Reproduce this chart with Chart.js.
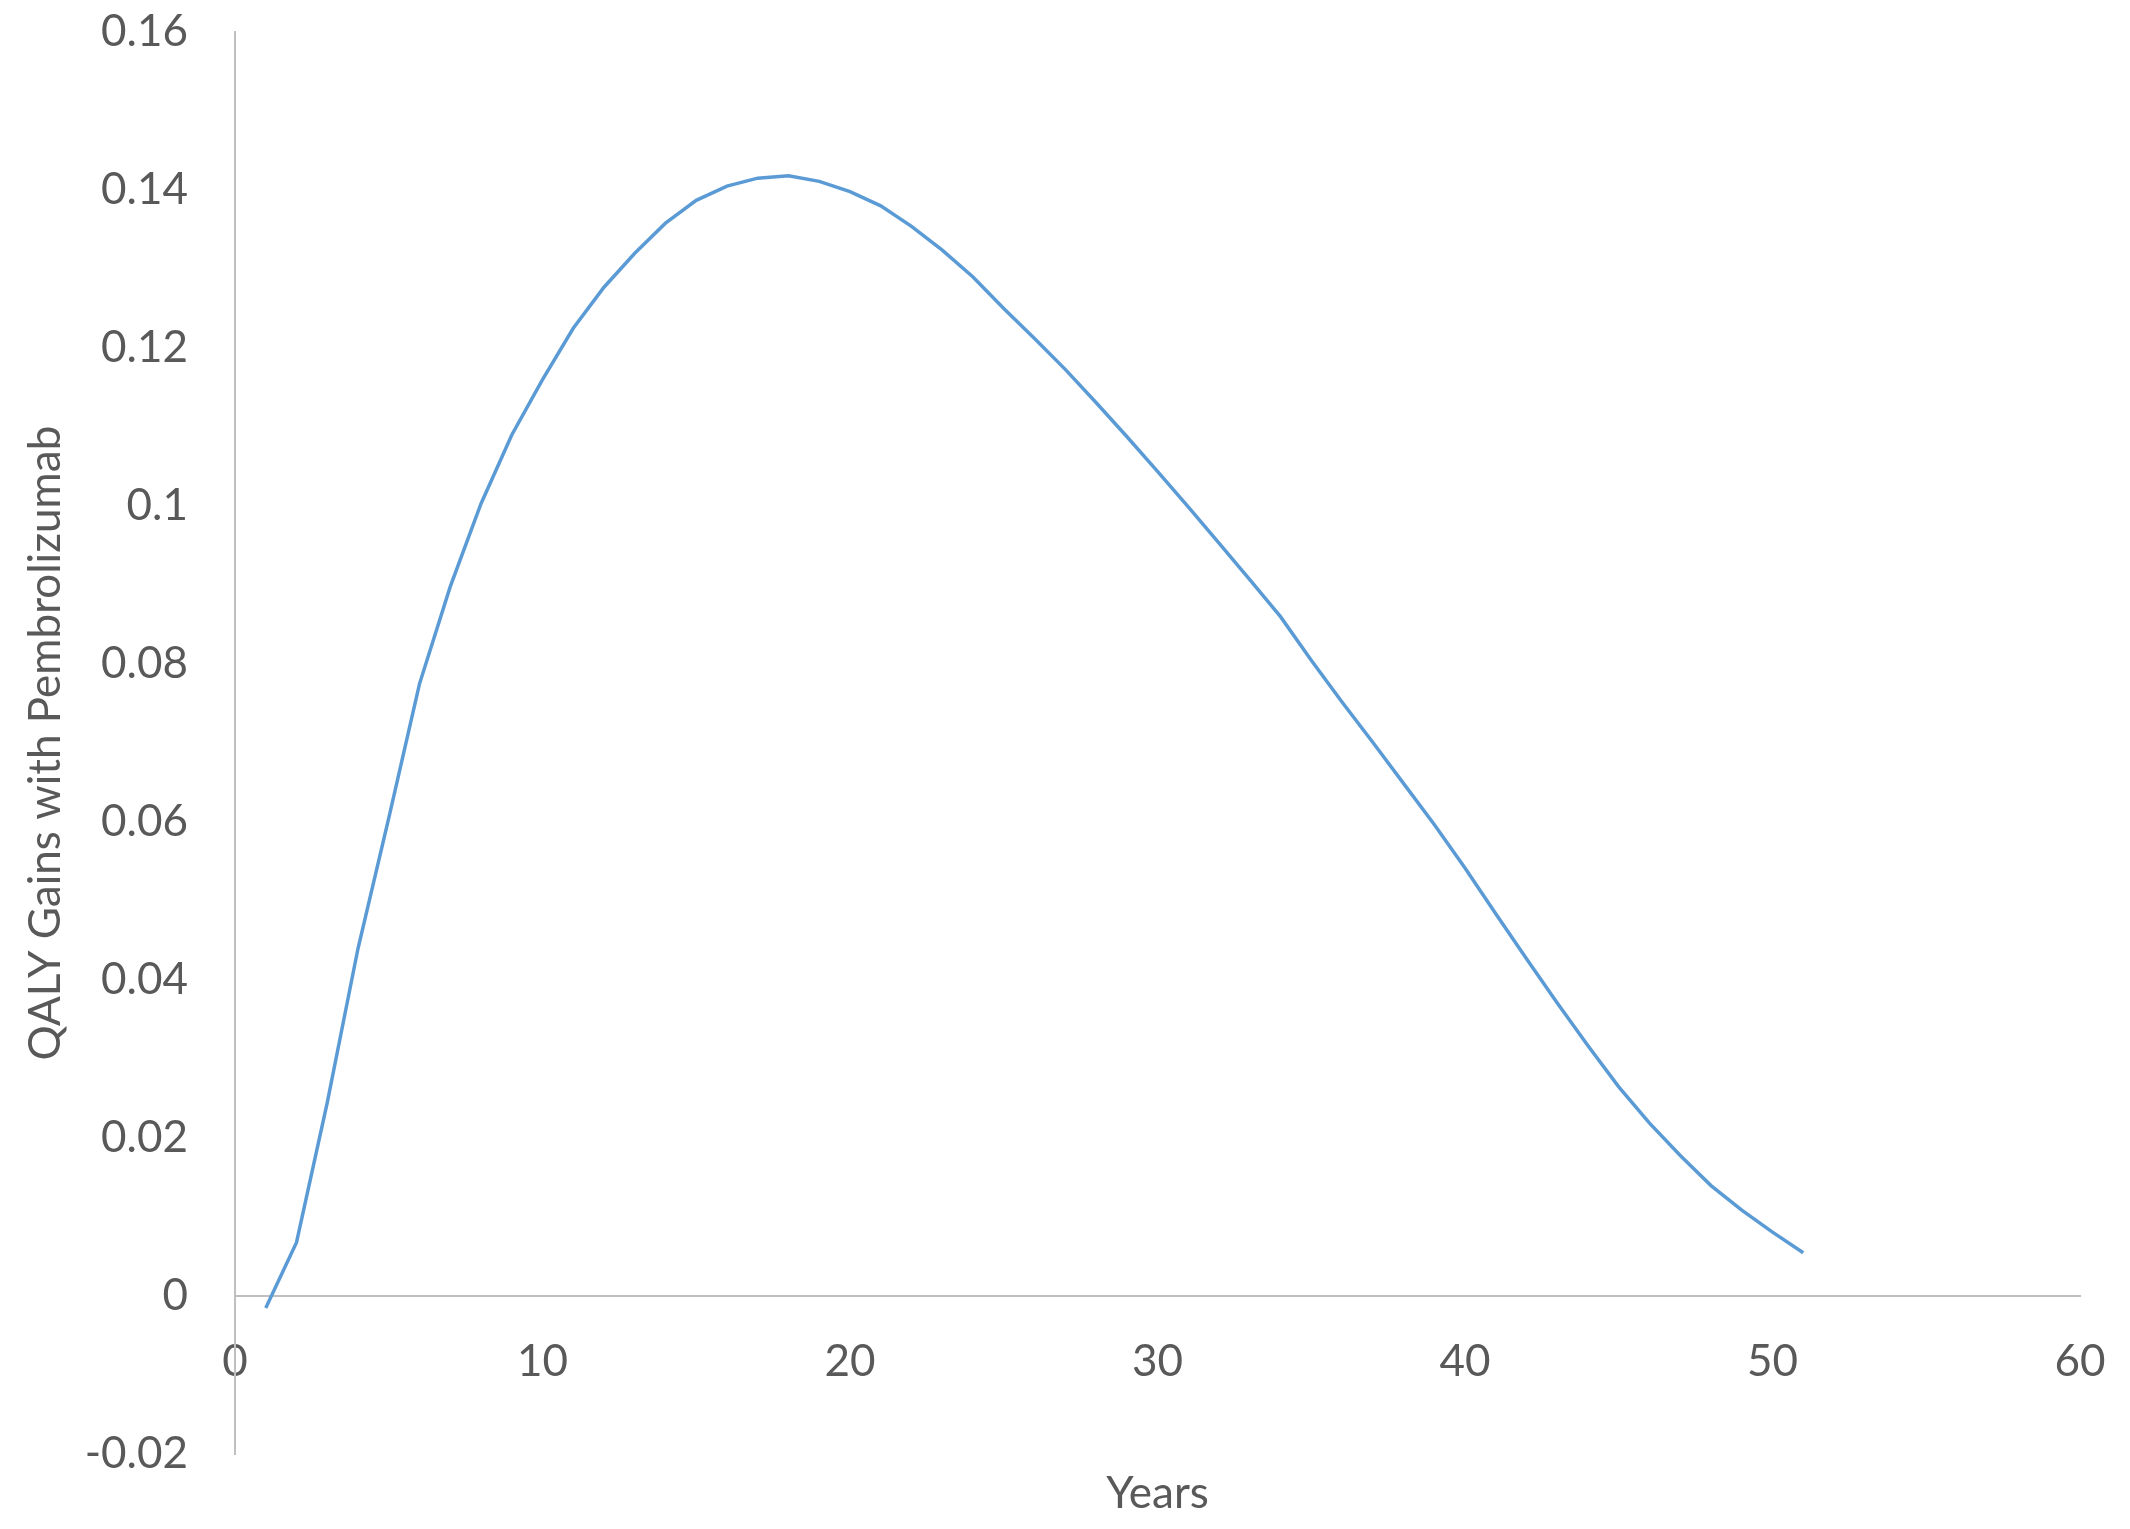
<!DOCTYPE html>
<html>
<head>
<meta charset="utf-8">
<script src="https://cdn.jsdelivr.net/npm/chart.js@4.4.1/dist/chart.umd.min.js"></script>
<style>
  html, body { margin: 0; padding: 0; background: #fff; }
  canvas { display: block; }
</style>
</head>
<body>
<canvas id="chart" width="2130" height="1529"></canvas>
<script>
// years since start
const years = [1, 2, 3, 4, 5, 6, 7, 8, 9, 10,
               11, 12, 13, 14, 15, 16, 17, 18, 19, 20,
               21, 22, 23, 24, 25, 26, 27, 28, 29, 30,
               31, 32, 33, 34, 35, 36, 37, 38, 39, 40,
               41, 42, 43, 44, 45, 46, 47, 48, 49, 50, 51];

// QALY gains
const qalyGains = [-0.0015, 0.0068, 0.0245, 0.0440, 0.0605, 0.0775, 0.0898, 0.1003, 0.1090, 0.1160,
                   0.1225, 0.1277, 0.1320, 0.1358, 0.1387, 0.1405, 0.1415, 0.1418, 0.1411, 0.1398,
                   0.1380, 0.1354, 0.1324, 0.1290, 0.1250, 0.1212, 0.1173, 0.1131, 0.1088, 0.1044,
                   0.0999, 0.0953, 0.0907, 0.0860, 0.0805, 0.0752, 0.0701, 0.0649, 0.0597, 0.0542,
                   0.0484, 0.0427, 0.0371, 0.0317, 0.0265, 0.0219, 0.0178, 0.0140, 0.0109, 0.0081, 0.0055];

const xTicks = [0, 10, 20, 30, 40, 50, 60];
const yTicks = [-0.02, 0, 0.02, 0.04, 0.06, 0.08, 0.1, 0.12, 0.14, 0.16];

const xTitle = 'Years';
const yTitle = 'QALY Gains with Pembrolizumab';

const textColor = '#595959';
const axisColor = '#bfbfbf';
const lineColor = '#5b9bd5';
const fontFamily = 'Lato, "Open Sans", sans-serif';

function draw() {
    const points = years.map((x, i) => ({ x: x, y: qalyGains[i] }));

    new Chart(document.getElementById('chart'), {
        type: 'line',
        data: {
            datasets: [{
                data: points,
                borderColor: lineColor,
                borderWidth: 3.5,
                pointRadius: 0,
                tension: 0,
                fill: false
            }]
        },
        options: {
            responsive: false,
            animation: false,
            layout: { padding: { left: 18, right: 50, top: 32, bottom: 9 } },
            plugins: {
                legend: { display: false },
                tooltip: { enabled: false },
                title: {
                    display: true,
                    text: xTitle,
                    position: 'bottom',
                    fullSize: false,
                    color: textColor,
                    font: { family: fontFamily, size: 44, weight: 'normal' },
                    padding: { top: 13, bottom: 0 }
                }
            },
            scales: {
                x: {
                    type: 'linear',
                    position: { y: 0 },
                    min: xTicks[0],
                    max: xTicks[xTicks.length - 1],
                    afterBuildTicks: (s) => { s.ticks = xTicks.map(v => ({ value: v })); },
                    afterFit: (s) => { s.height = 0; s.paddingLeft = 0; s.paddingRight = 0; },
                    grid: { display: false, drawTicks: false },
                    border: { display: true, color: axisColor, width: 2 },
                    ticks: {
                        color: textColor,
                        padding: 39,
                        maxRotation: 0,
                        font: { family: fontFamily, size: 44 }
                    }
                },
                y: {
                    type: 'linear',
                    position: 'left',
                    min: yTicks[0],
                    max: yTicks[yTicks.length - 1],
                    afterBuildTicks: (s) => { s.ticks = yTicks.map(v => ({ value: v })); },
                    afterFit: (s) => { s.width = 217; s.paddingTop = 0; s.paddingBottom = 0; },
                    grid: { display: false, drawTicks: false },
                    border: { display: true, color: axisColor, width: 2 },
                    ticks: {
                        color: textColor,
                        padding: 47,
                        font: { family: fontFamily, size: 44 },
                        callback: (v) => String(+Number(v).toFixed(2))
                    },
                    title: {
                        display: true,
                        text: yTitle,
                        color: textColor,
                        font: { family: fontFamily, size: 44 },
                        padding: { top: 1, bottom: 0 }
                    }
                }
            }
        }
    });
}

document.fonts.load('44px Lato').then(draw, draw);
</script>
</body>
</html>
